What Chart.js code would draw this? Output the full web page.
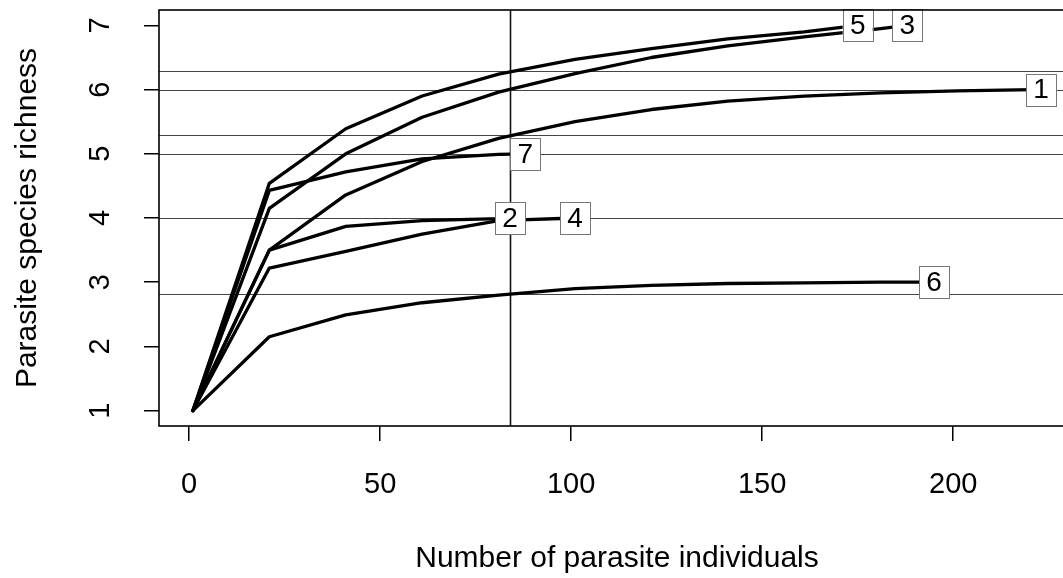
<!DOCTYPE html>
<html>
<head>
<meta charset="utf-8">
<script src="https://cdn.jsdelivr.net/npm/chart.js@4/dist/chart.umd.min.js"></script>
<style>
	html, body { margin: 0; padding: 0; background: #fff; overflow: hidden; }
	#wrap { width: 1076px; height: 578px; }
</style>
</head>
<body>
<div id="wrap"><canvas id="chart" width="1076" height="578"></canvas></div>
<script>
	// Rarefaction curves: sampled every 20 individuals, last point = total individuals
	const curveNames = ['1', '2', '3', '4', '5', '6', '7'];

	const curve1X = [1, 21, 41, 61, 81, 101, 121, 141, 161, 181, 201, 221, 223];
	const curve1Y = [1, 3.50, 4.36, 4.88, 5.24, 5.50, 5.69, 5.82, 5.90, 5.95, 5.98, 6.00, 6.00];

	const curve2X = [1, 21, 41, 61, 81, 84];
	const curve2Y = [1, 3.50, 3.87, 3.96, 3.99, 4.00];

	const curve3X = [1, 21, 41, 61, 81, 101, 121, 141, 161, 181, 188];
	const curve3Y = [1, 4.15, 5.00, 5.57, 5.96, 6.25, 6.50, 6.68, 6.82, 6.95, 7.00];

	const curve4X = [1, 21, 41, 61, 81, 101];
	const curve4Y = [1, 3.22, 3.48, 3.75, 3.96, 4.00];

	const curve5X = [1, 21, 41, 61, 81, 101, 121, 141, 161, 175];
	const curve5Y = [1, 4.54, 5.39, 5.90, 6.24, 6.47, 6.64, 6.79, 6.90, 7.00];

	const curve6X = [1, 21, 41, 61, 81, 101, 121, 141, 161, 181, 195];
	const curve6Y = [1, 2.15, 2.49, 2.68, 2.80, 2.90, 2.95, 2.98, 2.99, 3.00, 3.00];

	const curve7X = [1, 21, 41, 61, 81, 88];
	const curve7Y = [1, 4.43, 4.72, 4.92, 4.99, 5.00];

	// Richness of each curve at the smallest sample (84 individuals)
	const refLinesY = [6.29, 6.00, 5.29, 5.00, 4.00, 2.81];
	const refLineX = 84;

	// Axes
	const xTicks = [0, 50, 100, 150, 200];
	const yTicks = [1, 2, 3, 4, 5, 6, 7];
	const xRange = [-7.88, 231.88];
	const yRange = [0.76, 7.24];

	const xTitle = 'Number of parasite individuals';
	const yTitle = 'Parasite species richness';

	(() => {
		'use strict'

		const fontFamily = '"Liberation Sans", Arial, Helvetica, sans-serif';

		function toPoints(xs, ys) {
			return xs.map((x, i) => ({ x: x, y: ys[i] }));
		}

		// Tick label padding should not push the plot area around
		function noEdgePadding(scale) {
			scale.paddingTop = 0;
			scale.paddingBottom = 0;
			scale.paddingLeft = 0;
			scale.paddingRight = 0;
		}

		const curvesX = [curve1X, curve2X, curve3X, curve4X, curve5X, curve6X, curve7X];
		const curvesY = [curve1Y, curve2Y, curve3Y, curve4Y, curve5Y, curve6Y, curve7Y];

		const datasets = curveNames.map((name, i) => ({
			label: name,
			data: toPoints(curvesX[i], curvesY[i]),
			borderColor: '#000',
			borderWidth: 3.3,
			borderCapStyle: 'round',
			borderJoinStyle: 'round',
			pointRadius: 0,
			showLine: true,
			tension: 0,
		}));

		/******************** Plugins Start ********************/
		// Plot frame + reference lines
		const framePlugin = {
			id: 'frameAndRefs',
			beforeDatasetsDraw(chart) {
				const { ctx, chartArea: a, scales: { x, y } } = chart;
				ctx.save();
				ctx.beginPath();
				ctx.rect(a.left, a.top, a.right - a.left, a.bottom - a.top);
				ctx.clip();
				ctx.strokeStyle = '#444';
				ctx.lineWidth = 1.2;
				refLinesY.forEach(v => {
					const py = Math.round(y.getPixelForValue(v)) + 0.5;
					ctx.beginPath();
					ctx.moveTo(a.left, py);
					ctx.lineTo(a.right, py);
					ctx.stroke();
				});
				const px = Math.round(x.getPixelForValue(refLineX)) + 0.5;
				ctx.strokeStyle = '#111';
				ctx.lineWidth = 1.6;
				ctx.beginPath();
				ctx.moveTo(px, a.top);
				ctx.lineTo(px, a.bottom);
				ctx.stroke();
				ctx.restore();
			},
			afterDraw(chart) {
				const { ctx, chartArea: a } = chart;
				ctx.save();
				ctx.strokeStyle = '#000';
				ctx.lineWidth = 1.6;
				ctx.strokeRect(a.left, a.top, a.right - a.left, a.bottom - a.top);
				ctx.restore();
			}
		};

		// Boxed curve names at the end of each curve
		const endLabelPlugin = {
			id: 'endLabels',
			afterDatasetsDraw(chart) {
				const { ctx } = chart;
				ctx.save();
				ctx.font = '28px ' + fontFamily;
				ctx.textAlign = 'center';
				ctx.textBaseline = 'middle';
				chart.data.datasets.forEach((ds, i) => {
					const pts = chart.getDatasetMeta(i).data;
					const last = pts[pts.length - 1];
					const w = 30, h = 32;
					ctx.fillStyle = '#fff';
					ctx.fillRect(last.x - w / 2, last.y - h / 2, w, h);
					ctx.strokeStyle = '#777';
					ctx.lineWidth = 1;
					ctx.strokeRect(Math.round(last.x - w / 2) + 0.5, Math.round(last.y - h / 2) + 0.5, w, h);
					ctx.fillStyle = '#000';
					ctx.fillText(ds.label, last.x, last.y + 1);
				});
				ctx.restore();
			}
		};
		/********************* Plugins End *********************/

		/******************** Chart Start ********************/
		const config = {
			type: 'scatter',
			data: { datasets: datasets },
			options: {
				responsive: false,
				animation: false,
				devicePixelRatio: 1,
				layout: {
					padding: { top: 10, right: 1, bottom: 0, left: 0 }
				},
				scales: {
					x: {
						type: 'linear',
						min: xRange[0],
						max: xRange[1],
						afterBuildTicks: scale => { scale.ticks = xTicks.map(v => ({ value: v })); },
						afterFit: scale => { scale.height = 152; noEdgePadding(scale); },
						border: { display: false },
						grid: {
							drawOnChartArea: false,
							drawTicks: true,
							tickLength: 15,
							color: '#000',
							lineWidth: 1.5,
						},
						ticks: {
							color: '#000',
							padding: 27,
							maxRotation: 0,
							autoSkip: false,
							font: { family: fontFamily, size: 29 },
						},
						title: {
							display: true,
							text: xTitle,
							color: '#000',
							padding: { top: 0, bottom: 1 },
							font: { family: fontFamily, size: 30 },
						}
					},
					y: {
						type: 'linear',
						min: yRange[0],
						max: yRange[1],
						afterBuildTicks: scale => { scale.ticks = yTicks.map(v => ({ value: v })); },
						afterFit: scale => { scale.width = 159; noEdgePadding(scale); },
						border: { display: false },
						grid: {
							drawOnChartArea: false,
							drawTicks: true,
							tickLength: 15,
							color: '#000',
							lineWidth: 1.5,
						},
						ticks: {
							color: '#000',
							padding: 35,
							minRotation: 90,
							maxRotation: 90,
							crossAlign: 'center',
							autoSkip: false,
							font: { family: fontFamily, size: 29 },
						},
						title: {
							display: true,
							text: yTitle,
							color: '#000',
							padding: { top: 10, bottom: 0 },
							font: { family: fontFamily, size: 30 },
						}
					}
				},
				plugins: {
					legend: { display: false },
					title: { display: false },
					tooltip: { enabled: false }
				}
			},
			plugins: [framePlugin, endLabelPlugin]
		};

		const myChart = new Chart(document.getElementById('chart'), config);
		/********************* Chart End *********************/
	})()
</script>
</body>
</html>
